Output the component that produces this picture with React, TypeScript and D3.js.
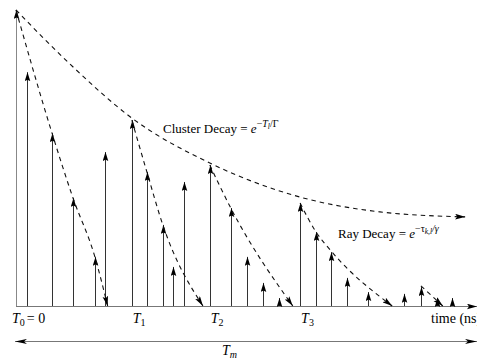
import React from 'react';
import * as d3 from 'd3';

// arrival times (ns) and amplitudes of the individual rays
const rayTimes = [0, 2.4, 7.9, 12.5, 17.3, 19.5, 25.4, 28.7, 32.2, 34.4, 36.8, 42.5, 47.1, 50.7, 54.2, 57.7, 62.3, 65.8, 69.1, 72.6, 77.2, 85.1, 88.8, 92.3, 95.6];
const rayAmps = [1.0, 0.79, 0.584, 0.365, 0.166, 0.52, 0.628, 0.453, 0.274, 0.132, 0.419, 0.476, 0.331, 0.166, 0.078, 0.027, 0.348, 0.25, 0.182, 0.095, 0.047, 0.041, 0.064, 0.027, 0.027];

// cluster envelope
const clusterTimes = [0, 11.8, 25.4, 42.5, 62.3, 79.8, 98.5];
const clusterAmps = [1.0, 0.818, 0.635, 0.483, 0.368, 0.318, 0.301];

// ray decay inside each cluster
const rayDecay0 = [[0, 1], [7.9, 0.584], [12.5, 0.365], [17.3, 0.166], [20.1, 0]];
const rayDecay1 = [[25.4, 0.628], [28.7, 0.453], [32.2, 0.274], [41.0, 0]];
const rayDecay2 = [[42.5, 0.476], [47.1, 0.331], [60.7, 0]];
const rayDecay3 = [[62.3, 0.348], [65.8, 0.25], [69.1, 0.186], [82.5, 0]];
const rayDecay4 = [[88.8, 0.068], [93.6, 0]];

const tickTimes = [0, 25.4, 42.5, 62.3];
const tickSubs = ['0', '1', '2', '3'];

const W = 477;
const H = 360;
const font = '"Liberation Serif", "DejaVu Serif", serif';

export default function App() {
    const x = d3.scaleLinear().domain([0, 100]).range([16, 472]);
    const y = d3.scaleLinear().domain([0, 1]).range([306, 10]);
    const base = y(0);

    const line: any = d3.line()
        .x((d: any) => x(d[0]))
        .y((d: any) => y(d[1]))
        .curve(d3.curveMonotoneX);

    const cluster = clusterTimes.map((t, i) => [t, clusterAmps[i]]);
    const decays = [rayDecay0, rayDecay1, rayDecay2, rayDecay3, rayDecay4];

    return (
        <svg width={W} height={H} style={{ position: 'absolute', left: 0, top: 0, background: '#fff' }}
            fontFamily={font}>
            <defs>
                <marker id="head" viewBox="0 -3 9 6" refX="9" refY="0" markerUnits="userSpaceOnUse"
                    markerWidth="9" markerHeight="6" orient="auto">
                    <path d="M0,-2.8L9,0L0,2.8L1.5,0Z" fill="#000" />
                </marker>
                <marker id="headDash" viewBox="0 -3 10 6" refX="10" refY="0" markerUnits="userSpaceOnUse"
                    markerWidth="10" markerHeight="6" orient="auto">
                    <path d="M0,-2.8L10,0L0,2.8L2,0Z" fill="#000" />
                </marker>
                <marker id="headBig" viewBox="0 -3 12 6" refX="12" refY="0" markerUnits="userSpaceOnUse"
                    markerWidth="12" markerHeight="6" orient="auto-start-reverse">
                    <path d="M0,-2.6L12,0L0,2.6L3,0Z" fill="#000" />
                </marker>
            </defs>

            {/* time axis */}
            <line x1={x(0)} x2={W} y1={base + 0.5} y2={base + 0.5} stroke="#777" strokeWidth={1.2}
                markerEnd="url(#headDash)" />

            {/* rays */}
            {rayTimes.map((t, i) => (
                <line key={i} x1={Math.round(x(t)) + 0.5} x2={Math.round(x(t)) + 0.5} y1={base} y2={y(rayAmps[i])}
                    stroke={t === 0 ? '#888' : '#333'} strokeWidth={1} markerEnd="url(#head)" />
            ))}

            {/* cluster decay */}
            <path d={line(cluster)} fill="none" stroke="#111" strokeWidth={1.1} strokeDasharray="4.5,4"
                markerEnd="url(#headDash)" />

            {/* ray decays */}
            {decays.map((d, i) => (
                <path key={i} d={line(d)} fill="none" stroke="#111" strokeWidth={1.1} strokeDasharray="4.5,4"
                    markerEnd="url(#headDash)" />
            ))}

            {/* tick labels */}
            {tickTimes.map((t, i) => (
                <text key={i} x={x(t) + (i === 0 ? -4 : 1)} y={323} fontSize={14} fill="#000">
                    <tspan fontStyle="italic">T</tspan>
                    <tspan fontSize={10} dy={3}>{tickSubs[i]}</tspan>
                    {i === 0 ? <tspan dy={-3} dx={2}>= 0</tspan> : null}
                </text>
            ))}
            <text x={431} y={323} fontSize={14} fill="#000">time (ns)</text>

            {/* T_m span */}
            <line x1={15} x2={W} y1={341.5} y2={341.5} stroke="#777" strokeWidth={1.2}
                markerStart="url(#headBig)" markerEnd="url(#headBig)" />
            <text x={222} y={355} fontSize={14} fill="#000">
                <tspan fontStyle="italic">T</tspan>
                <tspan fontSize={10} dy={3} fontStyle="italic">m</tspan>
            </text>

            {/* labels */}
            <text x={163} y={133} fontSize={13} fill="#000">
                Cluster Decay = <tspan fontStyle="italic">e</tspan>
                <tspan fontSize={10} dy={-6}>−</tspan>
                <tspan fontSize={10} fontStyle="italic">T</tspan>
                <tspan fontSize={7.5} fontStyle="italic" dy={2}>l</tspan>
                <tspan fontSize={10} dy={-2}>/Γ</tspan>
            </text>
            <text x={338} y={238} fontSize={13} fill="#000">
                Ray Decay = <tspan fontStyle="italic">e</tspan>
                <tspan fontSize={10} dy={-6}>−τ</tspan>
                <tspan fontSize={7.5} fontStyle="italic" dy={2}>k,l</tspan>
                <tspan fontSize={10} fontStyle="italic" dy={-2}>/γ</tspan>
            </text>
        </svg>
    );
}
